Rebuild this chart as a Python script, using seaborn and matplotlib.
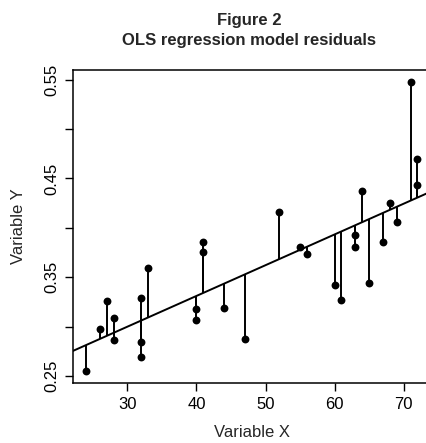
import numpy as np
import pandas as pd
import seaborn as sns
import matplotlib
matplotlib.use("Agg")
import matplotlib.pyplot as plt

# values
var_x = [24, 26, 27, 28, 28, 32, 32, 32, 33, 40, 40, 41, 41, 44, 47,
         52, 55, 56, 60, 61, 63, 63, 64, 65, 67, 68, 69, 71, 72, 72]
var_y = [0.255, 0.298, 0.326, 0.309, 0.286, 0.329, 0.284, 0.269, 0.359, 0.318,
         0.307, 0.386, 0.376, 0.319, 0.288, 0.416, 0.381, 0.374, 0.342, 0.327,
         0.393, 0.381, 0.437, 0.344, 0.386, 0.425, 0.406, 0.548, 0.470, 0.443]
x_ticks = [30, 40, 50, 60, 70]
y_ticks = [0.25, 0.30, 0.35, 0.40, 0.45, 0.50, 0.55]
y_tick_labels = ["0.25", "", "0.35", "", "0.45", "", "0.55"]

df = pd.DataFrame({"x": var_x, "y": var_y})

sns.set_style("ticks")
plt.rcParams['font.family'] = ['Liberation Sans', 'DejaVu Sans']

fig = plt.figure(figsize=(4.27, 4.43), dpi=100)
ax = fig.add_axes([0.1703, 0.1361, 0.8384, 0.7059])

# R-style padding of 4% on each side
xr = df.x.max() - df.x.min()
yr = df.y.max() - df.y.min()
ax.set_xlim(df.x.min() - 0.04 * xr, df.x.max() + 0.04 * xr)
ax.set_ylim(df.y.min() - 0.04 * yr, df.y.max() + 0.04 * yr)

# OLS fit and residual sticks
slope, intercept = np.polyfit(df.x, df.y, 1)
fitted = intercept + slope * df.x
ax.vlines(df.x, fitted, df.y, color="black", lw=1.4, zorder=2)

sns.regplot(data=df, x="x", y="y", scatter=False, ci=None, truncate=False,
            color="black", line_kws={"lw": 1.4}, ax=ax)
sns.scatterplot(data=df, x="x", y="y", color="black", s=32, linewidth=0,
                zorder=3, ax=ax)

ax.set_xticks(x_ticks)
ax.set_yticks(y_ticks)
ax.set_yticklabels(y_tick_labels, rotation=90, va="center")
ax.tick_params(direction="out", length=5.5, width=1.0, labelsize=12,
               colors="black")
ax.tick_params(axis="x", pad=5)
ax.tick_params(axis="y", pad=4)
for sp in ax.spines.values():
    sp.set_visible(True)
    sp.set_linewidth(1.1)
    sp.set_color("black")

ax.set_xlabel("Variable X", fontsize=12, labelpad=9)
ax.set_ylabel("Variable Y", fontsize=12, labelpad=13)
fig.text(0.5843, 1 - 25 / 443, "Figure 2", ha="center", va="baseline",
         fontsize=12, fontweight="bold")
fig.text(0.5843, 1 - 45 / 443, "OLS regression model residuals",
         ha="center", va="baseline", fontsize=12, fontweight="bold")

fig.savefig("out.png", dpi=100)
